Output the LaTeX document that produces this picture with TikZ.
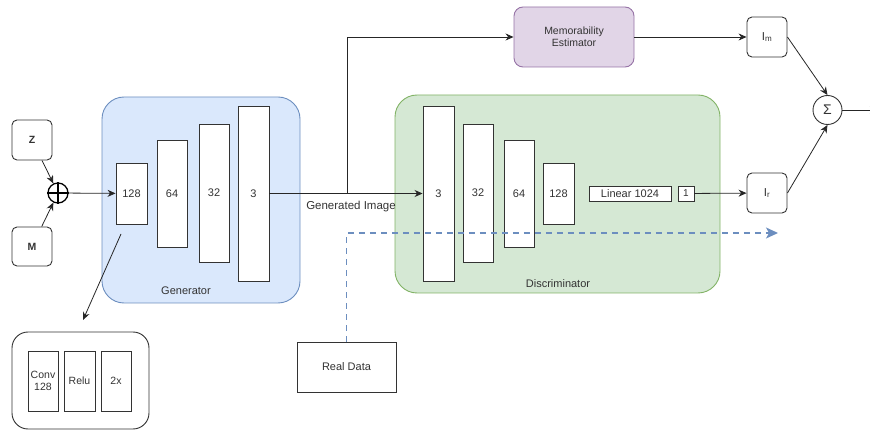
\documentclass[tikz,border=0pt]{standalone}
\usepackage{fontspec}
\setmainfont{Liberation Sans}
\usetikzlibrary{arrows.meta,positioning}
\definecolor{gfill}{HTML}{DAE8FC}
\definecolor{gline}{HTML}{6C8EBF}
\definecolor{dfill}{HTML}{D5E8D4}
\definecolor{dline}{HTML}{82B366}
\definecolor{mfill}{HTML}{E1D5E7}
\definecolor{mline}{HTML}{9673A6}
\definecolor{txt}{HTML}{333333}
\begin{document}
\begin{tikzpicture}[x=1pt,y=-1pt,
  every node/.style={font=\fontsize{11}{13}\selectfont, text=txt},
  layer/.style={draw=black!80, fill=white, line width=0.9pt, inner sep=0pt},
  rbox/.style={draw=black!80, fill=white, line width=0.9pt, rounded corners=5pt, inner sep=0pt},
  cont/.style={line width=0.9pt, rounded corners=22pt},
  arr/.style={draw=black!85, line width=0.8pt, -{Stealth[length=8pt,width=7pt]}},
  lbl/.style={inner sep=0pt}
]
\useasboundingbox (0,0) rectangle (870,430);

% containers
\draw[cont, fill=gfill, draw=gline] (102,97) rectangle (300,303);
\draw[cont, fill=dfill, draw=dline] (395,95) rectangle (720,293);
\draw[line width=0.9pt, rounded corners=16pt, draw=black!80, fill=white] (12,332) rectangle (149,429);

\node[lbl] (genlbl) at (186,291) {Generator};
\node[lbl] (dislbl) at (558,284) {Discriminator};

% inputs
\node[rbox, minimum width=40pt, minimum height=40pt, font=\fontsize{10.5}{12}\selectfont\bfseries] (z) at (32,140) {Z};
\node[rbox, minimum width=40pt, minimum height=39pt, font=\fontsize{10.5}{12}\selectfont\bfseries] (m) at (32,246.5) {M};
\node[circle, draw=black, line width=1.3pt, minimum size=20pt, inner sep=0pt] (op) at (58,193) {};
\draw[line width=1.3pt] (op.north) -- (op.south) (op.west) -- (op.east);

% generator layers
\node[layer, minimum width=31pt, minimum height=61pt] (g1) at (131.5,193.5) {128};
\node[layer, minimum width=30pt, minimum height=107pt] (g2) at (172,193.5) {64};
\node[layer, minimum width=30pt, minimum height=138pt] (g3) at (214,193) {32};
\node[layer, minimum width=31pt, minimum height=175pt] (g4) at (253.5,193.5) {3};

% discriminator layers
\node[layer, minimum width=31pt, minimum height=175pt] (d1) at (438.5,193.5) {3};
\node[layer, minimum width=30pt, minimum height=138pt] (d2) at (478,193) {32};
\node[layer, minimum width=30pt, minimum height=107pt] (d3) at (519,193.5) {64};
\node[layer, minimum width=31pt, minimum height=61pt] (d4) at (558.5,193.5) {128};
\node[layer, minimum width=82pt, minimum height=15pt] (lin) at (630,193.5) {Linear 1024};
\node[layer, minimum width=16pt, minimum height=15pt, font=\fontsize{10}{12}\selectfont] (one) at (686,193.5) {1};

% sub-block
\node[layer, minimum width=30pt, minimum height=60pt, align=center, font=\fontsize{10.5}{12}\selectfont] (conv) at (43,381) {Conv\\128};
\node[layer, minimum width=31pt, minimum height=60pt, font=\fontsize{10.5}{12}\selectfont] (relu) at (79.5,381) {Relu};
\node[layer, minimum width=30pt, minimum height=60pt, font=\fontsize{10.5}{12}\selectfont] (twox) at (116,381) {2x};

% memorability
\node[rbox, fill=mfill, draw=mline, minimum width=120pt, minimum height=60pt, align=center, rounded corners=9pt, font=\fontsize{10.5}{12}\selectfont] (mem) at (574,37) {Memorability\\Estimator};
\node[rbox, minimum width=40pt, minimum height=40pt, font=\fontsize{11.5}{13}\selectfont] (im) at (767,37) {I\textsubscript{m}};
\node[rbox, minimum width=40pt, minimum height=40pt, font=\fontsize{11.5}{13}\selectfont] (ir) at (767,193) {I\textsubscript{r}};
\node[circle, draw=black!80, line width=0.9pt, minimum size=29pt, inner sep=0pt, font=\fontsize{14}{16}\selectfont] (sig) at (827.5,110) {Σ};
\coordinate (out) at (878,110);

% real data
\node[layer, minimum width=99pt, minimum height=50pt] (real) at (346.5,367) {Real Data};
\node[lbl, font=\fontsize{11.5}{13}\selectfont] (genimg) at (351,207) {Generated Image};
\coordinate (br) at (347,193);
\coordinate (dend) at (778,233);
\coordinate (subs) at (121,234);
\coordinate (sube) at (83,320);

% connectors
\draw[arr] (z) -- (op);
\draw[arr] (m) -- (op);
\draw[arr] (op) -- (g1);
\draw[arr] (g4.east) -- (d1.west);
\draw[arr] (br) |- (mem.west);
\draw[arr] (subs) -- (sube);
\draw[arr] (mem) -- (im);
\draw[arr] (one) -- (ir);
\draw[arr] (im.east) -- (sig.north);
\draw[arr] (ir.east) -- (sig.south);
\draw[arr] (sig) -- (out);
\draw[draw=gline, line width=1.5pt, dash pattern=on 6pt off 5pt, -{Stealth[length=12pt,width=11pt,inset=3pt]}] (real.north) |- (dend);
\end{tikzpicture}
\end{document}
